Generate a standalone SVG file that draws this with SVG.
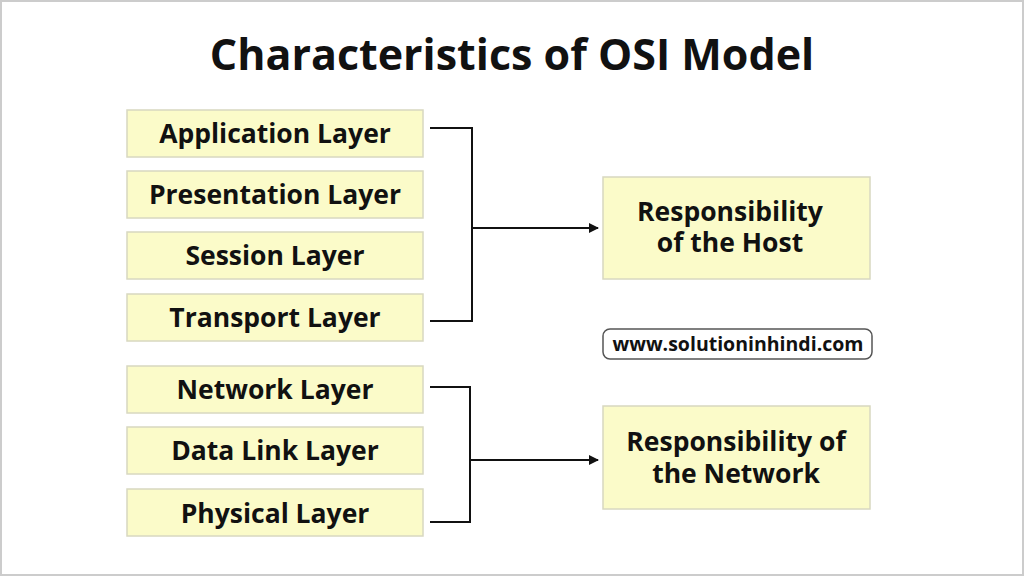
<svg xmlns="http://www.w3.org/2000/svg" width="1024" height="576" viewBox="0 0 1024 576">
<defs>
<style>
.b{fill:#fbfbc9;stroke:#d8d8c0;stroke-width:1.5}
.t{font-family:"Open Sans","Liberation Sans",sans-serif;font-weight:bold;font-size:26.5px;fill:#111;text-anchor:middle}
.c{fill:none;stroke:#111;stroke-width:2}
</style>
<marker id="a" markerWidth="10" markerHeight="10" refX="9" refY="5" orient="auto" markerUnits="userSpaceOnUse"><path d="M0,0 L10,5 L0,10 Z" fill="#111"/></marker>
</defs>
<rect x="1" y="1" width="1022" height="574" fill="#fff" stroke="#ccc" stroke-width="2"/>
<text x="512" y="70" class="t" style="font-size:43px">Characteristics of OSI Model</text>
<g id="app"><rect class="b" x="127" y="110" width="296" height="47"/><text class="t" x="275" y="143">Application Layer</text></g>
<g id="pres"><rect class="b" x="127" y="171" width="296" height="47"/><text class="t" x="275" y="204">Presentation Layer</text></g>
<g id="sess"><rect class="b" x="127" y="232" width="296" height="47"/><text class="t" x="275" y="265">Session Layer</text></g>
<g id="trans"><rect class="b" x="127" y="294" width="296" height="47"/><text class="t" x="275" y="327">Transport Layer</text></g>
<g id="net"><rect class="b" x="127" y="366" width="296" height="47"/><text class="t" x="275" y="399">Network Layer</text></g>
<g id="dl"><rect class="b" x="127" y="427" width="296" height="47"/><text class="t" x="275" y="460">Data Link Layer</text></g>
<g id="phy"><rect class="b" x="127" y="489" width="296" height="47"/><text class="t" x="275" y="523">Physical Layer</text></g>
<g id="host"><rect class="b" x="603" y="177" width="267" height="102"/><text class="t" x="730" y="221">Responsibility</text><text class="t" x="730" y="252">of the Host</text></g>
<g id="network"><rect class="b" x="603" y="406" width="267" height="103"/><text class="t" x="736" y="451">Responsibility of</text><text class="t" x="736" y="483">the Network</text></g>
<g id="web"><rect x="603" y="329" width="269" height="30" rx="7" fill="#fff" stroke="#555" stroke-width="1.5"/><text class="t" x="738" y="351" style="font-size:19.5px">www.solutioninhindi.com</text></g>
<g id="connectors">
<path class="c" d="M430,128 H472 V321 H430"/>
<path class="c" d="M472,228 H598" marker-end="url(#a)"/>
<path class="c" d="M430,387 H470 V522 H430"/>
<path class="c" d="M470,460 H598" marker-end="url(#a)"/>
</g>
</svg>
